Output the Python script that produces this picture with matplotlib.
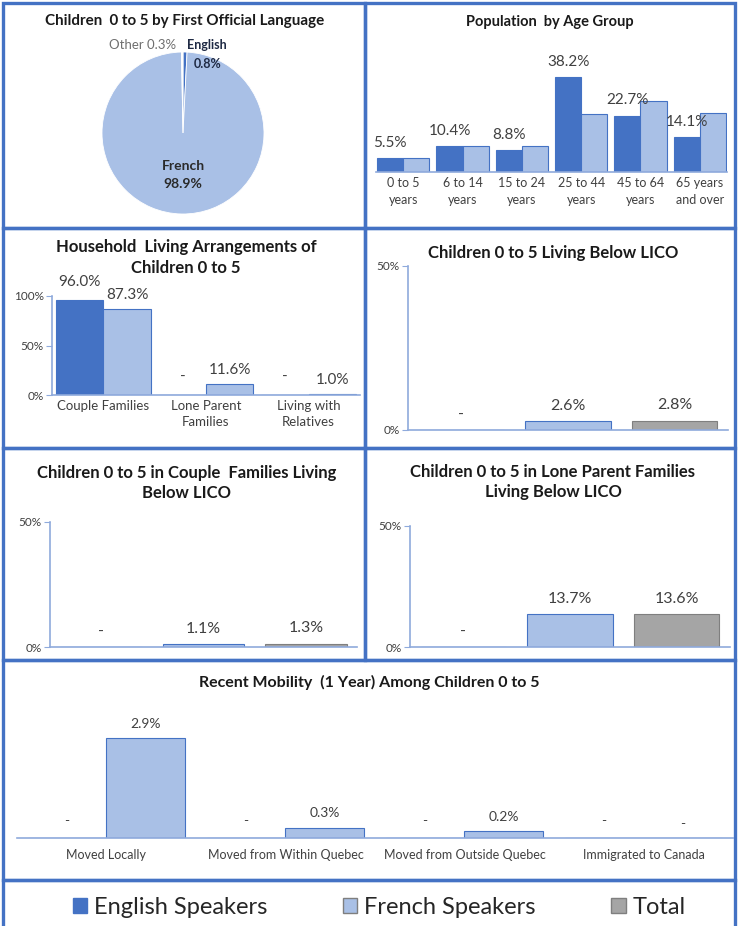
import matplotlib
matplotlib.use("Agg")
import matplotlib.pyplot as plt
from matplotlib.patches import Rectangle, Patch
import numpy as np

plt.rcParams['font.family'] = ['Lato', 'DejaVu Sans']

# data
pie_labels = ['English', 'French', 'Other']
pie_values = [0.8, 98.9, 0.3]

age_groups = ['0 to 5\nyears', '6 to 14\nyears', '15 to 24\nyears', '25 to 44\nyears',
              '45 to 64\nyears', '65 years\nand over']
age_english = [5.5, 10.4, 8.8, 38.2, 22.7, 14.1]
age_french = [5.8, 10.3, 10.3, 23.4, 28.5, 23.9]

household_cats = ['Couple Families', 'Lone Parent\nFamilies', 'Living with\nRelatives']
household_english = [96.0, 0.0, 0.0]
household_french = [87.3, 11.6, 1.0]

lico_groups = ['English Speakers', 'French Speakers', 'Total']
lico_all = [0.0, 2.6, 2.8]
lico_couple = [0.0, 1.1, 1.3]
lico_lone = [0.0, 13.7, 13.6]

mobility_cats = ['Moved Locally', 'Moved from Within Quebec', 'Moved from Outside Quebec',
                 'Immigrated to Canada']
mobility_english = [0.0, 0.0, 0.0, 0.0]
mobility_french = [2.9, 0.3, 0.2, 0.0]

# colours
DARK = '#4472C4'
LIGHT = '#A9C0E6'
GREY = '#A5A5A5'
GREY_EDGE = '#7F7F7F'
AXIS = '#8FAADC'
TXT = '#404040'

W, H = 738, 926
fig = plt.figure(figsize=(W / 100, H / 100), dpi=100)


def px_axes(x0, y0, x1, y1):
    return fig.add_axes([x0 / W, 1 - y1 / H, (x1 - x0) / W, (y1 - y0) / H])


def px_text(x, y, s, **kw):
    fig.text(x / W, 1 - y / H, s, **kw)


def fmt(v):
    return '-' if v == 0 else f'{v:.1f}%'


def style(ax, yaxis=False):
    for s in ['top', 'right']:
        ax.spines[s].set_visible(False)
    ax.spines['bottom'].set_color(AXIS)
    ax.spines['bottom'].set_linewidth(1.2)
    ax.tick_params(axis='x', length=0, colors=TXT)
    if yaxis:
        ax.spines['left'].set_color(AXIS)
        ax.spines['left'].set_linewidth(1.2)
        ax.tick_params(axis='y', length=4, color=AXIS, labelsize=8.5, labelcolor=TXT, pad=2)
    else:
        ax.spines['left'].set_visible(False)
        ax.set_yticks([])
    ax.set_facecolor('none')


# panel borders
panels = [(3, 3, 365, 228), (365, 3, 735, 228), (3, 228, 365, 448), (365, 228, 735, 448),
          (3, 448, 365, 660), (365, 448, 735, 660), (3, 660, 735, 880), (3, 880, 735, 930)]
for x0, y0, x1, y1 in panels:
    fig.add_artist(Rectangle((x0 / W, 1 - y1 / H), (x1 - x0) / W, (y1 - y0) / H,
                             transform=fig.transFigure, fill=False, edgecolor=DARK,
                             linewidth=2.4, zorder=10))

TITLE = dict(ha='center', va='center', fontweight='bold', color='#1a1a1a', linespacing=1.35)

# pie
ax = px_axes(100, 52, 266, 214)
ax.pie(pie_values, colors=[DARK, LIGHT, 'white'], startangle=90, counterclock=False,
       wedgeprops=dict(edgecolor='white', linewidth=0.6))
ax.set_xlim(-1, 1)
ax.set_ylim(-1, 1)
px_text(185, 21, 'Children  0 to 5 by First Official Language', fontsize=10.9, **TITLE)
px_text(143, 45, 'Other 0.3%', ha='center', va='center', fontsize=9.5, color='#6f6f6f')
px_text(207, 45, 'English', ha='center', va='center', fontsize=9, fontweight='bold', color='#1f2a44')
px_text(208, 64, '0.8%', ha='center', va='center', fontsize=9, fontweight='bold', color='#1f2a44')
px_text(183, 166, 'French', ha='center', va='center', fontsize=10, fontweight='bold', color='#2a2a2a')
px_text(183, 184, '98.9%', ha='center', va='center', fontsize=10, fontweight='bold', color='#2a2a2a')

# population by age group
ax = px_axes(376, 60, 727, 172)
x = np.arange(len(age_groups))
b1 = ax.bar(x - 0.22, age_english, 0.44, color=DARK, edgecolor=DARK, linewidth=0.8)
ax.bar(x + 0.22, age_french, 0.44, color=LIGHT, edgecolor=DARK, linewidth=0.8)
ax.bar_label(b1, labels=[fmt(v) for v in age_english], padding=6, fontsize=11, color=TXT)
ax.set_xlim(-0.46, 5.46)
ax.set_ylim(0, 45)
ax.set_xticks(x)
ax.set_xticklabels(age_groups, fontsize=9, linespacing=1.5)
style(ax)
px_text(550, 22, 'Population  by Age Group', fontsize=10.5, **TITLE)

# household living arrangements
ax = px_axes(52, 296, 360, 395)
x = np.arange(len(household_cats))
b1 = ax.bar(x - 0.23, household_english, 0.46, color=DARK, edgecolor=DARK, linewidth=0.8)
b2 = ax.bar(x + 0.23, household_french, 0.46, color=LIGHT, edgecolor=DARK, linewidth=0.8)
ax.bar_label(b1, labels=[fmt(v) for v in household_english], padding=8, fontsize=11, color=TXT)
ax.bar_label(b2, labels=[fmt(v) for v in household_french], padding=5, fontsize=11, color=TXT)
ax.set_xlim(-0.5, 2.5)
ax.set_ylim(0, 100)
ax.set_yticks([0, 50, 100])
ax.set_yticklabels(['0%', '50%', '100%'])
ax.set_xticks(x)
ax.set_xticklabels(household_cats, fontsize=9.5, linespacing=1.45)
style(ax, yaxis=True)
px_text(186, 247, 'Household  Living Arrangements of', fontsize=12, **TITLE)
px_text(186, 268, 'Children 0 to 5', fontsize=12, **TITLE)

# LICO panels
lico_panels = [
    (lico_all, (408, 266, 728, 430), (553, 253), 'Children 0 to 5 Living Below LICO'),
    (lico_couple, (50, 522, 357, 647), (187, 483), 'Children 0 to 5 in Couple  Families Living\nBelow LICO'),
    (lico_lone, (410, 526, 730, 647), (553, 482), 'Children 0 to 5 in Lone Parent Families\nLiving Below LICO'),
]
for vals, box, tpos, title in lico_panels:
    ax = px_axes(*box)
    x = np.arange(len(lico_groups))
    bars = ax.bar(x, vals, 0.8, color=[DARK, LIGHT, GREY], edgecolor=[DARK, DARK, GREY_EDGE],
                  linewidth=0.8)
    ax.bar_label(bars, labels=[fmt(v) for v in vals], padding=6, fontsize=11.5, color=TXT)
    ax.set_xlim(-0.5, 2.5)
    ax.set_ylim(0, 50)
    ax.set_yticks([0, 50])
    ax.set_yticklabels(['0%', '50%'])
    ax.set_xticks([])
    style(ax, yaxis=True)
    px_text(tpos[0], tpos[1], title, fontsize=12, **TITLE)

# recent mobility
ax = px_axes(17, 700, 733, 838)
x = np.arange(len(mobility_cats))
b1 = ax.bar(x - 0.22, mobility_english, 0.44, color=DARK, edgecolor=DARK, linewidth=0.8)
b2 = ax.bar(x + 0.22, mobility_french, 0.44, color=LIGHT, edgecolor=DARK, linewidth=0.8)
ax.bar_label(b1, labels=[fmt(v) for v in mobility_english], padding=8, fontsize=10, color=TXT)
ax.bar_label(b2, labels=[fmt(v) for v in mobility_french], padding=6, fontsize=10, color=TXT)
ax.set_xlim(-0.5, 3.5)
ax.set_ylim(0, 4)
ax.set_xticks(x)
ax.set_xticklabels(mobility_cats, fontsize=9)
ax.tick_params(axis='x', pad=8)
style(ax)
px_text(369, 682, 'Recent Mobility  (1 Year) Among Children 0 to 5', fontsize=11.5, **TITLE)

# legend
handles = [Patch(facecolor=DARK, edgecolor=DARK),
           Patch(facecolor=LIGHT, edgecolor=GREY_EDGE),
           Patch(facecolor=GREY, edgecolor=GREY_EDGE)]
fig.legend(handles, lico_groups, loc='center', bbox_to_anchor=(0.514, 1 - 907 / H), ncol=3,
           frameon=False, fontsize=17, handlelength=0.6, handleheight=0.6, handletextpad=0.3,
           columnspacing=3.2, labelcolor='#262626')

fig.savefig('out.png', dpi=100)
